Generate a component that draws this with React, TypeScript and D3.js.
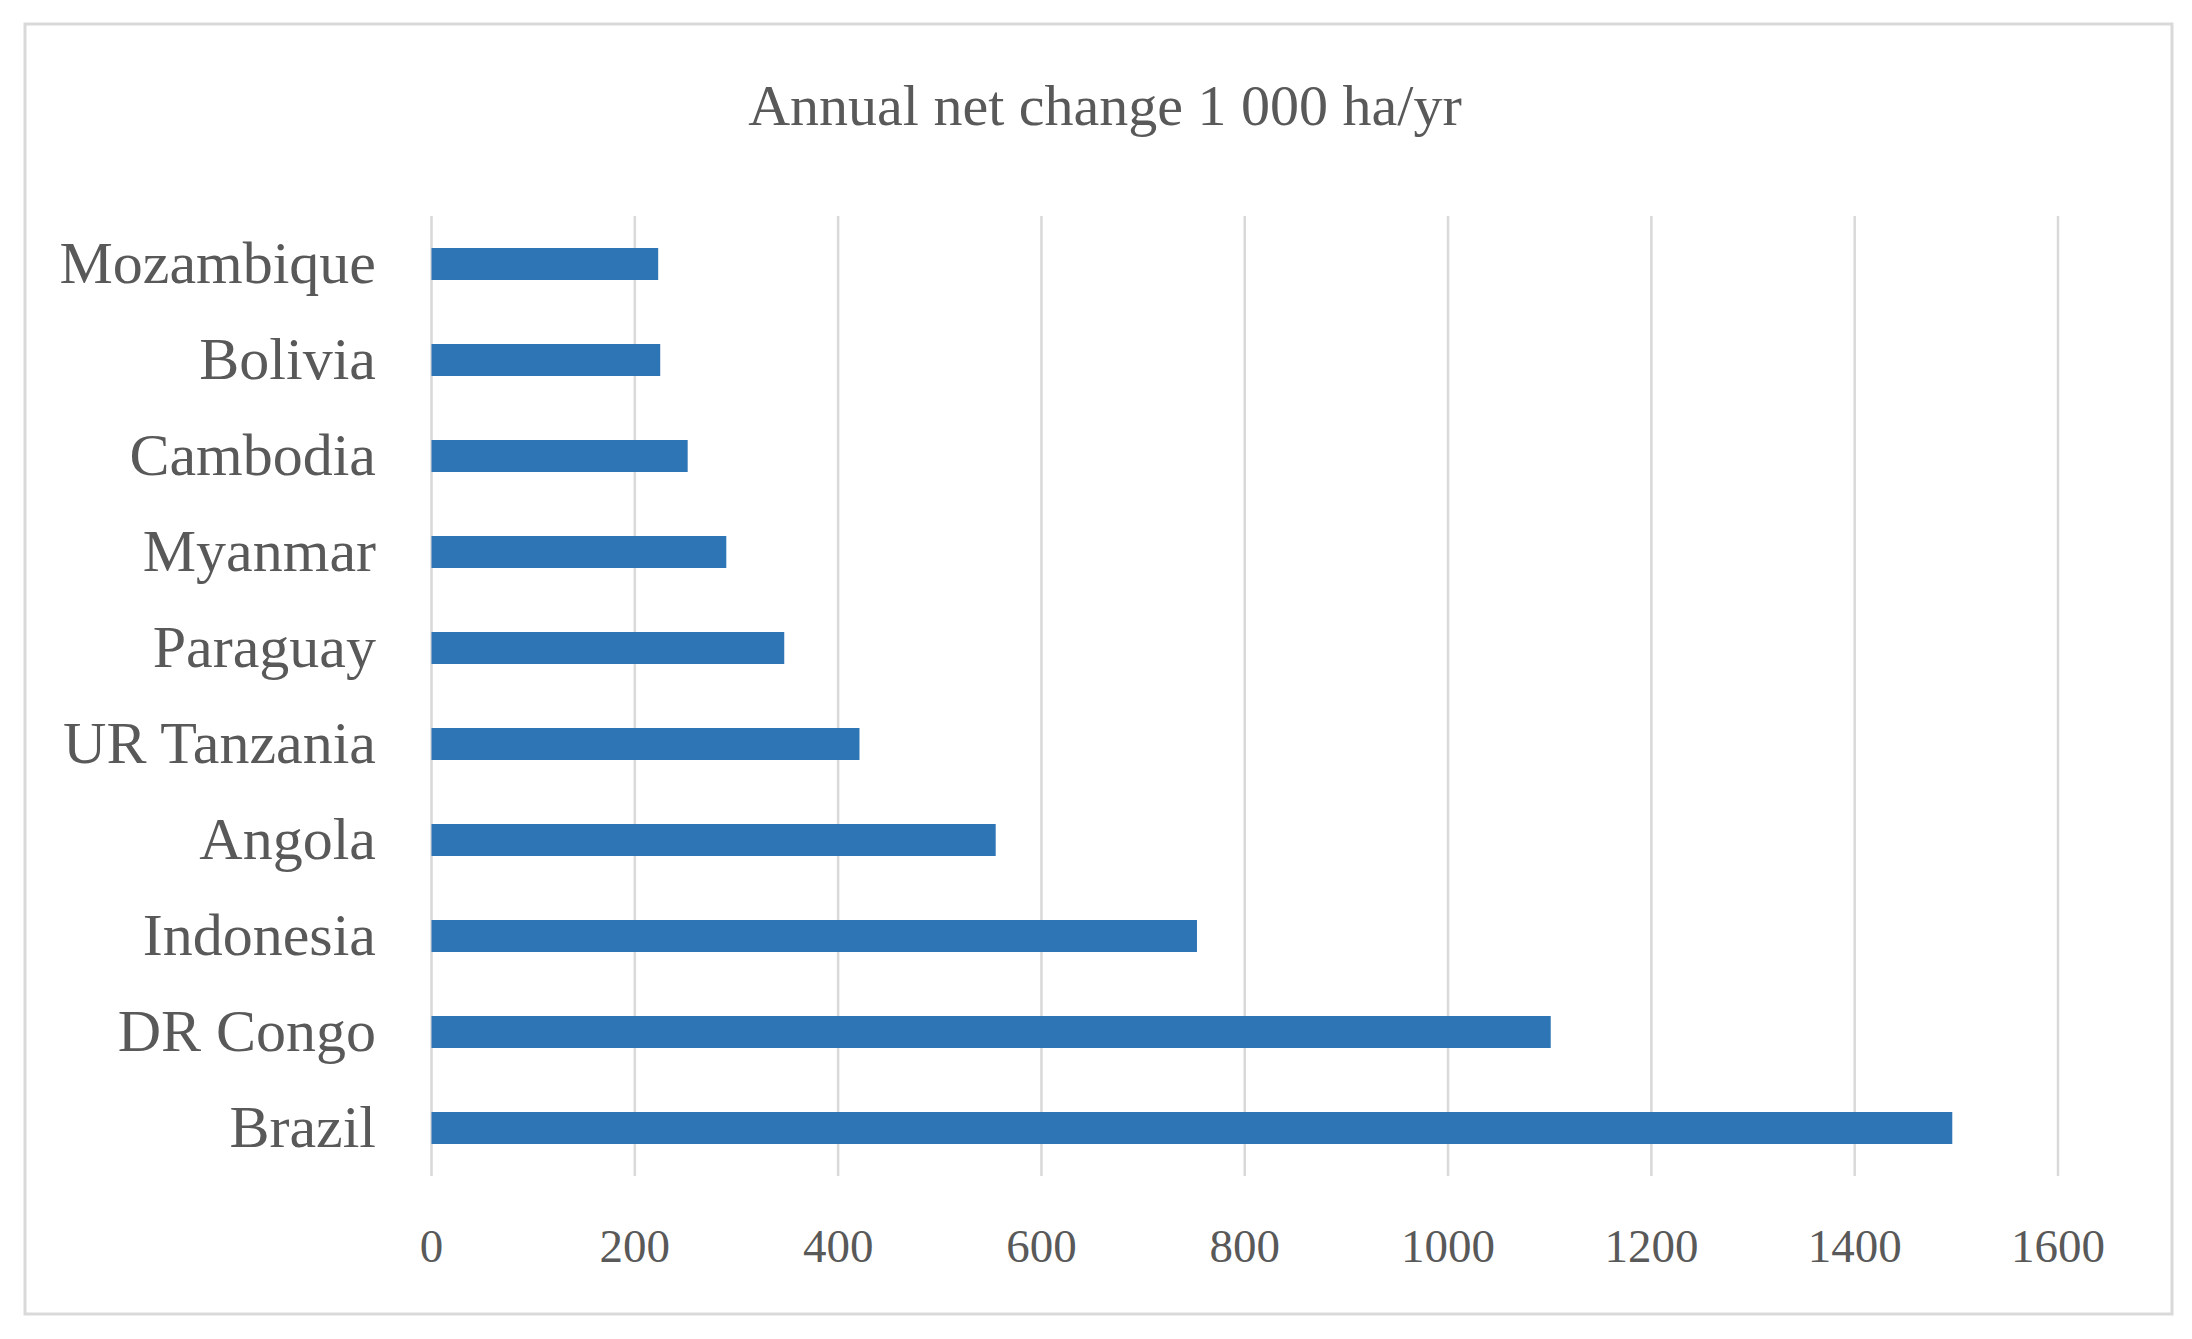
import React from "react";
import * as d3 from "d3";

const categories = ["Mozambique", "Bolivia", "Cambodia", "Myanmar", "Paraguay", "UR Tanzania", "Angola", "Indonesia", "DR Congo", "Brazil"];
const values = [223, 225, 252, 290, 347, 421, 555, 753, 1101, 1496];
const xTicks = [0, 200, 400, 600, 800, 1000, 1200, 1400, 1600];
const title = "Annual net change 1 000 ha/yr";

const W = 2192;
const H = 1339;
const FONT = "'Liberation Serif', 'DejaVu Serif', serif";
const TEXT = "#595959";

export default function App() {
  const x = d3.scaleLinear().domain([0, 1600]).range([431.5, 2058]);
  const y = d3.scaleBand<string>().domain(categories).range([216, 1176]).paddingInner(2 / 3).paddingOuter(1 / 3);
  return (
    <svg width={W} height={H} style={{ position: "absolute", left: 0, top: 0, background: "#fff" }}>
      <rect x={0} y={0} width={W} height={H} fill="#fff" />
      <rect x={25} y={24} width={2147} height={1290} fill="#fff" stroke="#d9d9d9" strokeWidth={3} />
      <text x={1105} y={125} textAnchor="middle" fontFamily={FONT} fontSize={58} fill={TEXT}>{title}</text>
      {xTicks.map((t) => (
        <line key={"g" + t} x1={x(t)} x2={x(t)} y1={216} y2={1176} stroke="#d9d9d9" strokeWidth={2.5} />
      ))}
      {categories.map((c, i) => (
        <rect key={c} x={x(0)} y={y(c)!} width={x(values[i]) - x(0)} height={y.bandwidth()} fill="#2e75b6" />
      ))}
      {categories.map((c) => (
        <text key={"l" + c} x={376} y={y(c)! + y.bandwidth() / 2 + 19} textAnchor="end" fontFamily={FONT} fontSize={60} fill={TEXT}>{c}</text>
      ))}
      {xTicks.map((t) => (
        <text key={"t" + t} x={x(t)} y={1262} textAnchor="middle" fontFamily={FONT} fontSize={47} fill={TEXT}>{t}</text>
      ))}
    </svg>
  );
}
